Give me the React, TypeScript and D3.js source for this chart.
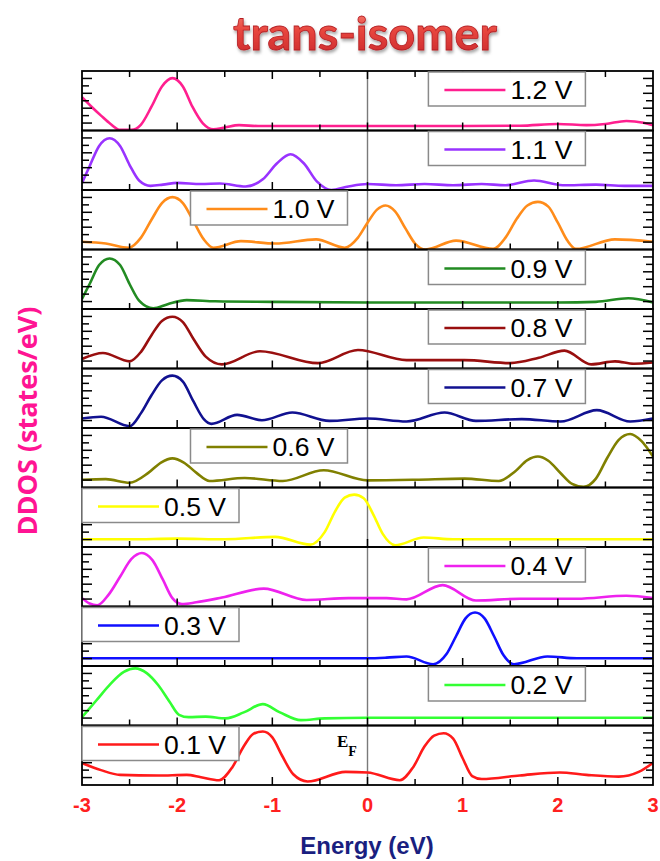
import React from 'react';
import * as d3 from 'd3';

type Pt = [number, number];

const W = 660;
const H = 861;

// bias labels, top to bottom
const biasLabels = ['1.2 V', '1.1 V', '1.0 V', '0.9 V', '0.8 V', '0.7 V', '0.6 V', '0.5 V', '0.4 V', '0.3 V', '0.2 V', '0.1 V'];
const lineColors = ['#ff1f8f', '#9933ff', '#ff8c1a', '#228b22', '#990f0f', '#111190', '#808000', '#ffff00', '#ee22ee', '#1010ff', '#33ff33', '#ff1a1a'];
// where each panel keeps its legend box
const legendSlot = ['right', 'right', 'mid', 'right', 'right', 'right', 'mid', 'left', 'right', 'left', 'right', 'left'];

const xTicks = [-3, -2, -1, 0, 1, 2, 3];

// DDOS (relative, fraction of panel height) vs energy (eV)
const dos12: Pt[] = [[-3, 0.56], [-2.9, 0.4], [-2.8, 0.25], [-2.7, 0.11], [-2.6, 0.01], [-2.48, 0.01], [-2.38, 0.1], [-2.27, 0.4], [-2.16, 0.74], [-2.05, 0.88], [-1.94, 0.74], [-1.84, 0.4], [-1.73, 0.12], [-1.62, 0.02], [-1.5, 0.05], [-1.35, 0.09], [-1.15, 0.075], [0, 0.075], [1, 0.075], [1.6, 0.08], [2, 0.11], [2.3, 0.09], [2.5, 0.11], [2.72, 0.16], [2.9, 0.13], [3, 0.09]];
const dos11: Pt[] = [[-3, 0.12], [-2.92, 0.4], [-2.82, 0.74], [-2.71, 0.87], [-2.6, 0.74], [-2.5, 0.42], [-2.4, 0.16], [-2.28, 0.07], [-2.15, 0.09], [-2, 0.12], [-1.75, 0.1], [-1.55, 0.11], [-1.28, 0.06], [-1.1, 0.18], [-0.95, 0.45], [-0.81, 0.6], [-0.67, 0.45], [-0.53, 0.14], [-0.38, 0], [-0.2, 0.06], [0, 0.1], [0.3, 0.08], [0.6, 0.1], [0.9, 0.08], [1.2, 0.1], [1.45, 0.08], [1.75, 0.16], [2.05, 0.08], [2.4, 0.09], [2.7, 0.07], [3, 0.07]];
const dos10: Pt[] = [[-3, 0.13], [-2.75, 0.1], [-2.51, 0.03], [-2.38, 0.2], [-2.27, 0.5], [-2.16, 0.78], [-2.05, 0.88], [-1.94, 0.78], [-1.83, 0.48], [-1.72, 0.17], [-1.62, 0.03], [-1.33, 0.14], [-0.97, 0.1], [-0.54, 0.17], [-0.24, 0.03], [-0.1, 0.2], [0, 0.45], [0.1, 0.67], [0.19, 0.74], [0.29, 0.64], [0.4, 0.35], [0.5, 0.1], [0.61, 0], [0.93, 0.15], [1.32, 0.01], [1.45, 0.2], [1.57, 0.52], [1.68, 0.74], [1.79, 0.8], [1.9, 0.72], [2, 0.45], [2.1, 0.15], [2.19, 0.01], [2.6, 0.17], [3, 0.13]];
const dos09: Pt[] = [[-3, 0.17], [-2.92, 0.42], [-2.82, 0.74], [-2.71, 0.85], [-2.6, 0.74], [-2.5, 0.42], [-2.4, 0.14], [-2.25, 0.01], [-2.1, 0.08], [-1.9, 0.15], [-1.6, 0.13], [-1, 0.12], [0, 0.11], [1, 0.11], [2, 0.11], [2.4, 0.12], [2.74, 0.18], [3, 0.11]];
const dos08: Pt[] = [[-3, 0.16], [-2.78, 0.26], [-2.5, 0.12], [-2.38, 0.28], [-2.27, 0.56], [-2.16, 0.8], [-2.05, 0.87], [-1.94, 0.78], [-1.83, 0.5], [-1.7, 0.2], [-1.53, 0.07], [-1.13, 0.29], [-0.52, 0.09], [-0.1, 0.31], [0.41, 0.14], [1.02, 0.14], [1.5, 0.09], [1.8, 0.18], [2.07, 0.3], [2.35, 0.07], [2.6, 0.12], [2.8, 0.08], [3, 0.1]];
const dos07: Pt[] = [[-3, 0.16], [-2.8, 0.19], [-2.5, 0.03], [-2.38, 0.25], [-2.27, 0.55], [-2.16, 0.8], [-2.05, 0.88], [-1.94, 0.78], [-1.83, 0.45], [-1.72, 0.15], [-1.64, 0.07], [-1.37, 0.22], [-1.11, 0.13], [-0.79, 0.26], [-0.4, 0.12], [0, 0.16], [0.41, 0.11], [0.81, 0.26], [1.14, 0.12], [1.62, 0.15], [2.03, 0.11], [2.41, 0.3], [2.76, 0.11], [3, 0.16]];
const dos06: Pt[] = [[-3, 0.13], [-2.75, 0.14], [-2.5, 0.08], [-2.3, 0.25], [-2.17, 0.42], [-2.05, 0.49], [-1.93, 0.42], [-1.8, 0.25], [-1.66, 0.11], [-1.29, 0.16], [-0.89, 0.11], [-0.46, 0.29], [0, 0.12], [0.5, 0.13], [1.02, 0.15], [1.38, 0.11], [1.55, 0.27], [1.68, 0.46], [1.79, 0.52], [1.9, 0.45], [2.03, 0.24], [2.15, 0.06], [2.27, 0.01], [2.4, 0.15], [2.52, 0.5], [2.64, 0.8], [2.76, 0.9], [2.88, 0.78], [3, 0.52]];
const dos05: Pt[] = [[-3, 0.13], [-2.5, 0.13], [-2, 0.14], [-1.5, 0.13], [-0.97, 0.17], [-0.6, 0.04], [-0.45, 0.25], [-0.34, 0.6], [-0.24, 0.83], [-0.14, 0.88], [-0.04, 0.82], [0.06, 0.55], [0.16, 0.22], [0.29, 0.03], [0.59, 0.16], [0.9, 0.13], [1.5, 0.13], [2, 0.13], [2.5, 0.13], [3, 0.13]];
const dos04: Pt[] = [[-3, 0.14], [-2.92, 0.05], [-2.84, 0.02], [-2.72, 0.2], [-2.6, 0.5], [-2.48, 0.8], [-2.37, 0.9], [-2.26, 0.78], [-2.15, 0.45], [-2.05, 0.14], [-1.95, 0.04], [-1.8, 0.07], [-1.53, 0.15], [-1.09, 0.3], [-0.64, 0.11], [-0.2, 0.14], [0.2, 0.14], [0.41, 0.12], [0.79, 0.36], [1.14, 0.1], [1.6, 0.13], [2.2, 0.13], [2.72, 0.18], [3, 0.14]];
const dos03: Pt[] = [[-3, 0.13], [-2, 0.13], [-1, 0.13], [0, 0.13], [0.2, 0.14], [0.41, 0.16], [0.69, 0.03], [0.83, 0.2], [0.93, 0.5], [1.03, 0.8], [1.13, 0.9], [1.23, 0.8], [1.33, 0.5], [1.43, 0.18], [1.54, 0.03], [1.89, 0.16], [2.2, 0.13], [3, 0.13]];
const dos02: Pt[] = [[-3, 0.14], [-2.85, 0.42], [-2.7, 0.7], [-2.56, 0.9], [-2.44, 0.96], [-2.32, 0.88], [-2.2, 0.68], [-2.08, 0.4], [-1.98, 0.18], [-1.88, 0.14], [-1.7, 0.15], [-1.49, 0.12], [-1.3, 0.22], [-1.1, 0.36], [-0.92, 0.22], [-0.7, 0.09], [-0.45, 0.12], [0, 0.13], [1, 0.13], [2, 0.13], [3, 0.13]];
const dos01: Pt[] = [[-3, 0.37], [-2.8, 0.25], [-2.6, 0.17], [-2.2, 0.16], [-1.9, 0.17], [-1.75, 0.13], [-1.56, 0.08], [-1.42, 0.3], [-1.3, 0.65], [-1.2, 0.86], [-1.1, 0.9], [-1, 0.8], [-0.9, 0.5], [-0.78, 0.18], [-0.63, 0.06], [-0.23, 0.22], [0, 0.21], [0.34, 0.08], [0.48, 0.3], [0.6, 0.65], [0.7, 0.83], [0.8, 0.87], [0.9, 0.78], [1, 0.45], [1.1, 0.15], [1.2, 0.1], [1.6, 0.16], [2.02, 0.21], [2.3, 0.17], [2.64, 0.14], [2.85, 0.22], [3, 0.37]];

const series = [dos12, dos11, dos10, dos09, dos08, dos07, dos06, dos05, dos04, dos03, dos02, dos01];

const App = () => {
  const left = 82, right = 653, top = 71, bottom = 785;
  const n = series.length;
  const panelH = (bottom - top) / n;
  const x = d3.scaleLinear().domain([-3, 3]).range([left, right]);
  const xMinor = d3.range(-3, 3.001, 0.5);
  const yTickVals = d3.range(1, 8).map(k => k / 8);

  const boxW = 157, boxH = 34;
  const boxLeft = (slot: string) =>
    slot === 'right' ? x(0.64) : slot === 'mid' ? x(-1.86) : left;

  return (
    <svg width={W} height={H} style={{ position: 'absolute', left: 0, top: 0, background: '#fff' }}>
      <defs>
        <linearGradient id="titleGrad" x1="0" y1="0" x2="0" y2="1">
          <stop offset="0" stopColor="#f7877a" />
          <stop offset="0.45" stopColor="#e8463e" />
          <stop offset="1" stopColor="#c8262b" />
        </linearGradient>
        <filter id="titleShadow" x="-10%" y="-20%" width="120%" height="160%">
          <feDropShadow dx="1" dy="2.5" stdDeviation="1.6" floodColor="#000" floodOpacity="0.35" />
        </filter>
        {series.map((_, i) => (
          <clipPath id={`clip${i}`} key={i}>
            <rect x={left} y={top + i * panelH} width={right - left} height={panelH} />
          </clipPath>
        ))}
      </defs>

      {/* title */}
      <text x={365} y={50} textAnchor="middle" fontFamily="Lato, 'Open Sans', sans-serif" fontWeight={700}
        fontSize={45} textLength={264} lengthAdjust="spacingAndGlyphs"
        fill="url(#titleGrad)" stroke="#b51f24" strokeWidth={0.8} filter="url(#titleShadow)">
        trans-isomer
      </text>

      {/* Fermi level */}
      <line x1={x(0)} x2={x(0)} y1={top} y2={bottom} stroke="#7a7a7a" strokeWidth={1.4} />

      {series.map((data, i) => {
        const y0 = top + i * panelH;
        const y = d3.scaleLinear().domain([0, 1]).range([y0 + panelH, y0]);
        const path = d3.line<Pt>().x(d => x(d[0])).y(d => y(d[1])).curve(d3.curveMonotoneX)(data) || '';
        const slot = legendSlot[i];
        const bx = boxLeft(slot);
        return (
          <g key={i}>
            <path d={path} fill="none" stroke={lineColors[i]} strokeWidth={2.6} clipPath={`url(#clip${i})`} />
            {/* y ticks both sides */}
            {yTickVals.map((v, k) => (
              <g key={k}>
                <line x1={left} x2={left + (k % 2 === 0 ? 10 : 7)} y1={y(v)} y2={y(v)} stroke="#000" strokeWidth={1.5} />
                <line x1={right} x2={right - (k % 2 === 0 ? 10 : 7)} y1={y(v)} y2={y(v)} stroke="#000" strokeWidth={1.5} />
              </g>
            ))}
            {/* x ticks at the panel bottom */}
            {xMinor.slice(1, -1).map(v => (
              <line key={v} x1={x(v)} x2={x(v)} y1={y0 + panelH} y2={y0 + panelH - (Number.isInteger(v) ? 8 : 6)}
                stroke="#000" strokeWidth={1.5} />
            ))}
            {i === 0 && xMinor.slice(1, -1).map(v => (
              <line key={'t' + v} x1={x(v)} x2={x(v)} y1={y0} y2={y0 + (Number.isInteger(v) ? 8 : 6)}
                stroke="#000" strokeWidth={1.5} />
            ))}
            <rect x={left} y={y0} width={right - left} height={panelH} fill="none" stroke="#000" strokeWidth={1.8} />
            {/* legend */}
            <rect x={bx} y={y0 + 1} width={boxW} height={boxH} fill="#fff" stroke="#8a8a8a" strokeWidth={1.5} />
            <line x1={bx + 16} x2={bx + 77} y1={y0 + 19} y2={y0 + 19} stroke={lineColors[i]} strokeWidth={2.6} />
            <text x={bx + 82} y={y0 + 28} fontFamily="'Liberation Sans', Arial, sans-serif" fontSize={26}
              textLength={62} lengthAdjust="spacingAndGlyphs" fill="#000">
              {biasLabels[i]}
            </text>
          </g>
        );
      })}

      {/* E_F label */}
      <text x={337} y={747} fontFamily="'Liberation Serif', serif" fontWeight={700} fontSize={17} fill="#000">
        E<tspan fontSize={14} dy={9}>F</tspan>
      </text>

      {/* x tick labels */}
      {xTicks.map(v => (
        <text key={v} x={x(v)} y={812} textAnchor="middle" fontFamily="'Liberation Sans', Arial, sans-serif"
          fontWeight={700} fontSize={20} fill="#ff2020">{v}</text>
      ))}

      <text x={367} y={854} textAnchor="middle" fontFamily="'Liberation Sans', Arial, sans-serif" fontWeight={700}
        fontSize={24} fill="#1a1f80">Energy (eV)</text>

      <text transform="translate(37,421) rotate(-90)" textAnchor="middle" fontFamily="'Open Sans', sans-serif"
        fontWeight={700} fontSize={27} fill="#ff1493">DDOS (states/eV)</text>
    </svg>
  );
};

export default App;
